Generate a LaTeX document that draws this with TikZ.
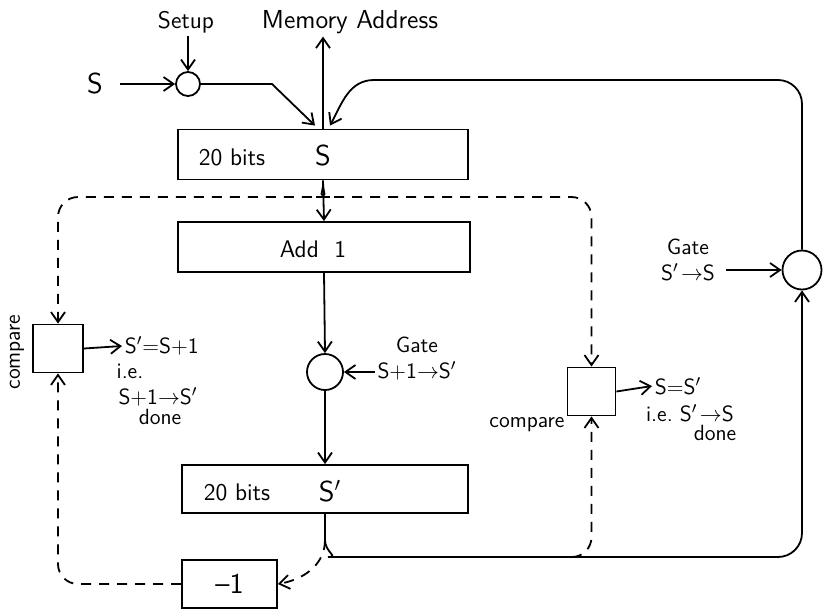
\documentclass[tikz,border=0pt]{standalone}
\usepackage{amsmath}
\usepackage{tikz}
\usetikzlibrary{calc,arrows.meta}

\begin{document}
\begin{tikzpicture}[x=0.5pt, y=-0.5pt, >={Straight Barb[length=5pt,width=7pt]}, line width=0.9pt, font=\sffamily,
    regbox/.style={draw, minimum width=#1, minimum height=25pt, inner sep=0pt},
    gatecirc/.style={draw, circle, minimum size=#1, inner sep=0pt},
    cmpbox/.style={draw, minimum width=24pt, minimum height=24pt, inner sep=0pt},
    lbl/.style={font=\sffamily\fontsize{11}{13}\selectfont, align=center, inner sep=1pt},
    gatelbl/.style={font=\sffamily\fontsize{11}{13}\selectfont, align=center, inner sep=1pt},
    dashline/.style={dash pattern=on 5pt off 4pt}]
    \useasboundingbox (0,0) rectangle (823,611);
    % registers and adder
    \node[regbox=145pt] (regS) at (323,154.5) {};
    \node[regbox=146pt] (addone) at (324,247) {};
    \node[regbox=143pt, minimum height=24pt] (regSp) at (325,489) {};
    \node[font=\sffamily\large] (regStxt) at (232,157) {20 bits};
    \node[font=\sffamily\Large] (regSname) at (323,156) {S};
    \node[font=\sffamily\large] (addtxt) at (313,249) {Add\ \ 1};
    \node[font=\sffamily\large] (regSptxt) at (237,492) {20 bits};
    \node[font=\sffamily\Large] (regSpname) at (330,491) {S$'$};
    % input S with setup gate
    \node[font=\sffamily\Large] (Sin) at (95,84) {S};
    \node[gatecirc=12pt] (setupg) at (188,84) {};
    \node[lbl, font=\sffamily\large] (setup) at (186,22) {Setup};
    \node[lbl, font=\sffamily\fontsize{13}{15}\selectfont] (mem) at (350,22) {Memory Address};
    % gates
    \node[gatecirc=18pt] (gateA) at (325,372) {};
    \node[gatelbl] (gateAl) at (417,359) {Gate\\S+1$\rightarrow$S$'$};
    \node[gatecirc=19.5pt] (gateB) at (802,270) {};
    \node[gatelbl] (gateBl) at (688,260) {Gate\\S$'\!\rightarrow$S};
    % compare boxes and -1
    \node[cmpbox, minimum width=25pt] (cmpL) at (58,348.5) {};
    \node[lbl, rotate=90] (cmpLl) at (17,352) {compare};
    \node[cmpbox] (cmpR) at (591.5,391.5) {};
    \node[lbl] (cmpRl) at (527,425) {compare};
    \node[regbox=47.5pt, minimum height=24pt, font=\sffamily\Large] (minusone) at (229.5,584) {\textendash 1};
    % result texts
    \node[lbl, anchor=west] (eqL) at (122,346) {S$'$=S+1};
    \node[lbl] (ieL) at (130,371) {i.e.};
    \node[lbl] (doneL1) at (158,397) {S+1$\rightarrow$S$'$};
    \node[lbl] (doneL2) at (160,417) {done};
    \node[lbl, anchor=west] (eqR) at (652,386) {S=S$'$};
    \node[lbl] (ieR) at (690,413) {i.e.\ S$'\!\rightarrow$S};
    \node[lbl] (doneR) at (715,433) {done};

    % input path into S
    \draw[->, shorten <=5pt] (Sin.east) -- (setupg.west);
    \draw[->] (setup.south -| setupg) -- (setupg.north);
    \draw[->] (setupg.east) -- (272,84) -- ($(regS.north)+(-8,-3)$);
    \draw[->] (regS.north) -- (regS.north |- mem.south);
    % feedback S' -> S
    \draw[rounded corners=12pt] (gateB.north) |- (374,80);
    \draw[->] (374,80) to[out=180,in=62] ($(regS.north)+(7,-3)$);
    % S -> Add 1 -> gate -> S'
    \draw[->] (regS.south) -- (addone.north);
    \coordinate (brS) at (323,186);
    \draw[dashline, ->, rounded corners=10pt] (brS) to[out=-90,in=0] (310,197) -| (cmpL.north);
    \draw[dashline, ->, rounded corners=10pt] (brS) to[out=-90,in=180] (336,197) -| (cmpR.north);
    \draw[->] (addone.south) -- (gateA.north);
    \draw[->] (gateAl.west |- gateA) -- (gateA.east);
    \draw[->] (gateA.south) -- (regSp.north);
    \draw[->] (gateBl.east |- gateB) ++(8,0) -- (gateB.west);
    % S' outputs
    \coordinate (brSp) at (325,540);
    \draw (regSp.south) -- (brSp);
    \draw[->, rounded corners=12pt] (brSp) to[out=-90,in=180] (352,557) -| (gateB.south);
    \draw[dashline, ->] (brSp) to[out=-90,in=10] (minusone.east);
    \draw[dashline, ->, rounded corners=10pt] (minusone.west) -| (cmpL.south);
    \coordinate (tapR) at (572,557);
    \draw[dashline, ->] (tapR) to[out=0,in=-90] (591.5,537) -- (cmpR.south);
    % compare results
    \draw[->] (cmpL.east) -- (eqL.west);
    \draw[->] (cmpR.east) -- (eqR.west);
\end{tikzpicture}
\end{document}
